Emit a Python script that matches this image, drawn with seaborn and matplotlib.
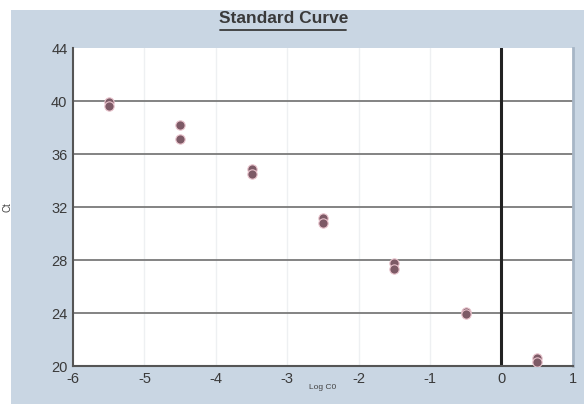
import matplotlib
matplotlib.use("Agg")
import matplotlib.pyplot as plt
import seaborn as sns
import pandas as pd
from matplotlib.lines import Line2D
from matplotlib.patches import Rectangle

# standard curve replicates (log concentration vs Ct)
log_c0 = [-5.5, -5.5, -4.5, -4.5, -3.5, -3.5, -2.5, -2.5, -1.5, -1.5, -0.5, -0.5, 0.5, 0.5]
ct = [39.9, 39.6, 38.2, 37.1, 34.9, 34.5, 31.2, 30.8, 27.8, 27.3, 24.1, 23.9, 20.6, 20.3]
x_ticks = [-6, -5, -4, -3, -2, -1, 0, 1]
y_ticks = [20, 24, 28, 32, 36, 40, 44]

df = pd.DataFrame({'log_c0': log_c0, 'ct': ct})

sns.set_style('white')
plt.rcParams['font.family'] = ['Liberation Sans', 'DejaVu Sans']
plt.rcParams['axes.unicode_minus'] = False
fig = plt.figure(figsize=(5.84, 4.04), dpi=100)
fig.patch.set_facecolor('white')
fig.patches.append(Rectangle((0.019, 0), 0.981, 0.975, transform=fig.transFigure,
                             facecolor='#c9d6e3', edgecolor='none', zorder=-5))

ax = fig.add_axes([0.125, 0.094, 0.856, 0.787])
ax.set_zorder(2)
ax.set_facecolor('white')

for y in y_ticks[1:-1]:
    ax.axhline(y, color='#7a7a7a', lw=1.3, zorder=1)
for x in x_ticks[1:]:
    ax.axvline(x, color='#eef0f2', lw=1, zorder=0.5)
ax.axvline(0, color='#222222', lw=2.2, zorder=2)

sns.scatterplot(x='log_c0', y='ct', data=df, ax=ax, s=45, color='#7d5a66',
                edgecolor='#e9c3cc', linewidth=0.8, zorder=3, legend=False)

ax.set_xlim(-6, 1)
ax.set_ylim(20, 44)
ax.set_xticks(x_ticks)
ax.set_yticks(y_ticks)
ax.tick_params(labelsize=10.5, colors='#3a3a3a', length=0, pad=4)
ax.set_xlabel('Log C0', fontsize=6, color='#444444', labelpad=-1)
ax.set_ylabel('Ct', fontsize=7, color='#444444', labelpad=28)

for side in ['left', 'bottom']:
    ax.spines[side].set_color('#555555')
    ax.spines[side].set_linewidth(1.5)
ax.spines['top'].set_visible(False)
ax.spines['right'].set_color('#a7b6c6')
ax.spines['right'].set_linewidth(2)

fig.text(0.485, 0.955, 'Standard Curve', ha='center', va='center', fontsize=12.5,
         fontweight='bold', color='#3a3a3a')
fig.lines.append(Line2D([0.377, 0.592], [0.925, 0.925], transform=fig.transFigure,
                        color='#3a3a3a', lw=1.3))

fig.savefig('out.png', dpi=100)
